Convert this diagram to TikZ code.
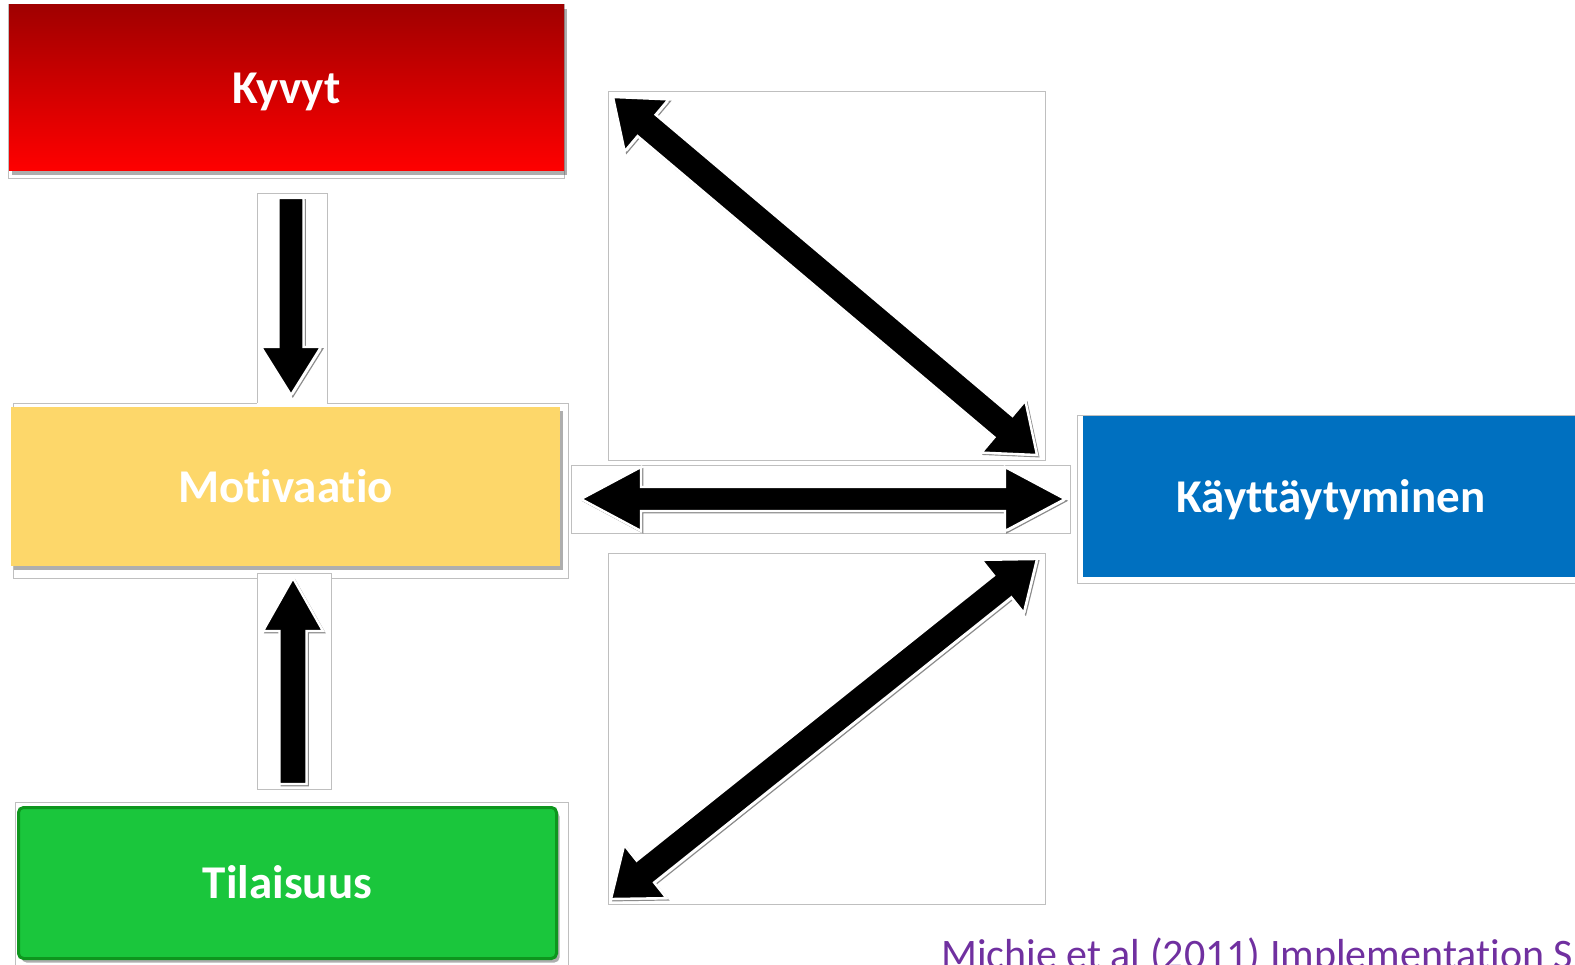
\documentclass[tikz,border=0pt]{standalone}
\usepackage{fontspec}
\setmainfont{Carlito}[Ligatures={NoCommon,NoContextual},RawFeature={-liga;-dlig;-calt}]
\usetikzlibrary{calc,shadows}
\definecolor{kdark}{RGB}{160,0,0}
\definecolor{kbright}{RGB}{255,0,0}
\definecolor{myellow}{RGB}{253,215,106}
\definecolor{tgreen}{RGB}{26,198,60}
\definecolor{tgreendark}{RGB}{14,150,30}
\definecolor{kblue}{RGB}{0,112,192}
\definecolor{cpurple}{RGB}{112,48,160}
\tikzset{
  frame/.style={draw=black!25, line width=0.8pt, fill=white},
  lbl/.style={font=\bfseries\fontsize{47}{52}\selectfont, text=white, inner sep=0pt, outer sep=0pt, text height=31pt, text depth=0pt},
  bshadow/.style={drop shadow={shadow xshift=3pt, shadow yshift=-4pt, opacity=0.45, fill=black!70}},
  blockarrow/.style={fill=black, draw=white, line width=2.4pt, line join=miter,
    preaction={draw=black!45, line width=1.2pt, transform canvas={shift={(1.8pt,-1.8pt)}}}},
}
\newcommand\DblArrow[5]{% from, to, shaft half width, head half width, head length
  \coordinate (hA) at ($(#1)!#5!(#2)$);
  \coordinate (hB) at ($(#2)!#5!(#1)$);
  \path[blockarrow] (#1) -- ($(hA)!#4!90:(#2)$) -- ($(hA)!#3!90:(#2)$)
     -- ($(hB)!#3!-90:(#1)$) -- ($(hB)!#4!-90:(#1)$) -- (#2)
     -- ($(hB)!#4!90:(#1)$) -- ($(hB)!#3!90:(#1)$)
     -- ($(hA)!#3!-90:(#2)$) -- ($(hA)!#4!-90:(#2)$) -- cycle;
}
\newcommand\OneArrow[5]{% tail, tip, shaft half width, head half width, head length
  \coordinate (hB) at ($(#2)!#5!(#1)$);
  \path[blockarrow] ($(#1)!#3!90:(#2)$) -- ($(hB)!#3!-90:(#1)$) -- ($(hB)!#4!-90:(#1)$)
     -- (#2) -- ($(hB)!#4!90:(#1)$) -- ($(hB)!#3!90:(#1)$) -- ($(#1)!#3!-90:(#2)$) -- cycle;
}
\begin{document}
\begin{tikzpicture}[x=1pt,y=-1pt]
\useasboundingbox (0,0) rectangle (1575,965);
\fill[white] (0,0) rectangle (1575,965);

% frames
\draw[frame] (8,4) rectangle (564,178);
\draw[frame] (13,403) rectangle (568,578);
\fill[white] (257,193) rectangle (327,405);
\draw[frame, fill=none] (257,403) |- (327,193) -- (327,403);
\draw[frame] (257,573) rectangle (331,789);
\draw[frame] (15,802) rectangle (568,975);
\draw[frame] (571,465) rectangle (1070,533);
\draw[frame] (608,91) rectangle (1045,460);
\draw[frame] (608,553) rectangle (1045,904);
\draw[frame] (1077,415) rectangle (1590,583);

% boxes
\node[lbl, bshadow, top color=kdark, bottom color=kbright, minimum width=555pt, minimum height=166pt] (kyvyt) at (286.5,88) {Kyvyt};
\node[lbl, bshadow, fill=myellow, minimum width=549pt, minimum height=159pt] (motiv) at (285.5,486.5) {Mot\kern0pt ivaat\kern0pt io};
\node[lbl, bshadow, fill=tgreen, draw=tgreendark, line width=3pt, rounded corners=5pt, minimum width=538pt, minimum height=151pt] (tila) at (287.5,883) {Tilaisuus};
\node[lbl, fill=kblue, minimum width=496pt, minimum height=161pt] (kayt) at (1331,496.5) {Käyttäytyminen};

% arrow end points
\coordinate (dT) at (291,198);
\coordinate (dH) at (291,395);
\coordinate (uT) at (293,784);
\coordinate (uH) at (293,578);
\coordinate (hL) at (581,499);
\coordinate (hR) at (1065,499);
\coordinate (t1) at (613,97);
\coordinate (t2) at (1037,455);
\coordinate (b1) at (1037,559);
\coordinate (b2) at (611,899);

\OneArrow{dT}{dH}{12.5pt}{30pt}{48pt}
\OneArrow{uT}{uH}{13.5pt}{30pt}{53pt}
\DblArrow{hL}{hR}{12pt}{32pt}{60pt}
\DblArrow{t1}{t2}{14pt}{34pt}{44pt}
\DblArrow{b1}{b2}{14pt}{34pt}{44pt}

% citation
\node[anchor=base west, inner sep=0pt, font=\fontsize{42}{46}\selectfont, text=cpurple] (cite) at (941,968) {Michie et al (2011) Implementat\kern0pt ion S};
\end{tikzpicture}
\end{document}
